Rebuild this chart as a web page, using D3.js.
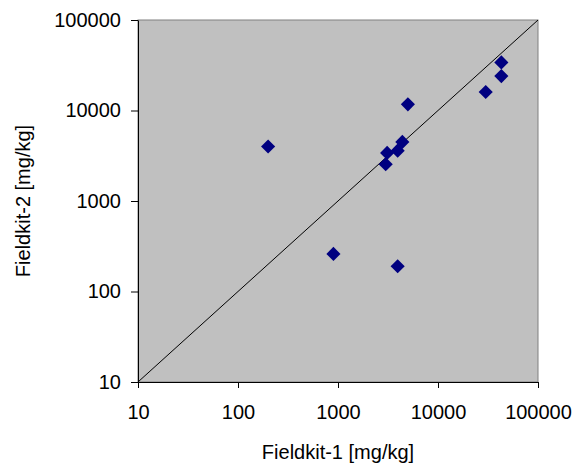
<!DOCTYPE html>
<html>
<head>
<meta charset="utf-8">
<script src="https://cdn.jsdelivr.net/npm/d3@7"></script>
<style>
  html, body { margin: 0; padding: 0; background: #ffffff; }
  text { font-family: Arial, "Liberation Sans", sans-serif; fill: #000; }
</style>
</head>
<body>
<div id="chart"></div>
<script>
// valeurs
const fieldkit1 = [43000, 43000, 30000, 5000, 200, 4400, 3100, 3950, 3000, 900, 3950];
const fieldkit2 = [34000, 24000, 16000, 11700, 4000, 4500, 3400, 3600, 2550, 260, 190];
const tickValues = [10, 100, 1000, 10000, 100000];
const domain = [10, 100000];

const width = 576, height = 468;
const plot = { left: 138, right: 538, top: 20, bottom: 382 };

const svg = d3.select("#chart")
  .append("svg")
  .attr("width", width)
  .attr("height", height);

// échelles log
const x = d3.scaleLog().domain(domain).range([plot.left, plot.right]);
const y = d3.scaleLog().domain(domain).range([plot.bottom, plot.top]);

// fond du graphique
svg.append("rect")
  .attr("x", plot.left)
  .attr("y", plot.top)
  .attr("width", plot.right - plot.left)
  .attr("height", plot.bottom - plot.top)
  .attr("fill", "#c0c0c0")
  .attr("stroke", "#808080")
  .attr("stroke-width", 1);

// diagonale 1:1
svg.append("line")
  .attr("x1", x(domain[0])).attr("y1", y(domain[0]))
  .attr("x2", x(domain[1])).attr("y2", y(domain[1]))
  .attr("stroke", "#000")
  .attr("stroke-width", 1);

// axes
const xAxis = svg.append("g")
  .attr("transform", `translate(0, ${plot.bottom})`)
  .call(d3.axisBottom(x).tickValues(tickValues).tickFormat(d3.format("d")).tickSizeInner(6).tickSizeOuter(0).tickPadding(17));

const yAxis = svg.append("g")
  .attr("transform", `translate(${plot.left}, 0)`)
  .call(d3.axisLeft(y).tickValues(tickValues).tickFormat(d3.format("d")).tickSizeInner(7).tickSizeOuter(0).tickPadding(10));

[xAxis, yAxis].forEach(g => {
  g.select(".domain").attr("stroke", "#000");
  g.selectAll(".tick line").attr("stroke", "#000");
  g.selectAll(".tick text")
    .attr("font-family", "Arial, 'Liberation Sans', sans-serif")
    .attr("font-size", 20)
    .attr("fill", "#000");
});

// points (losanges)
svg.append("g")
  .selectAll("path")
  .data(fieldkit1.map((v, i) => [v, fieldkit2[i]]))
  .join("path")
  .attr("transform", d => `translate(${x(d[0])}, ${y(d[1])}) rotate(45)`)
  .attr("d", d3.symbol().type(d3.symbolSquare).size(100))
  .attr("fill", "#000080");

// titres des axes
svg.append("text")
  .attr("x", (plot.left + plot.right) / 2)
  .attr("y", 459)
  .attr("text-anchor", "middle")
  .attr("font-size", 20)
  .text("Fieldkit-1 [mg/kg]");

svg.append("text")
  .attr("transform", `translate(30, ${(plot.top + plot.bottom) / 2}) rotate(-90)`)
  .attr("text-anchor", "middle")
  .attr("font-size", 20)
  .text("Fieldkit-2 [mg/kg]");
</script>
</body>
</html>
